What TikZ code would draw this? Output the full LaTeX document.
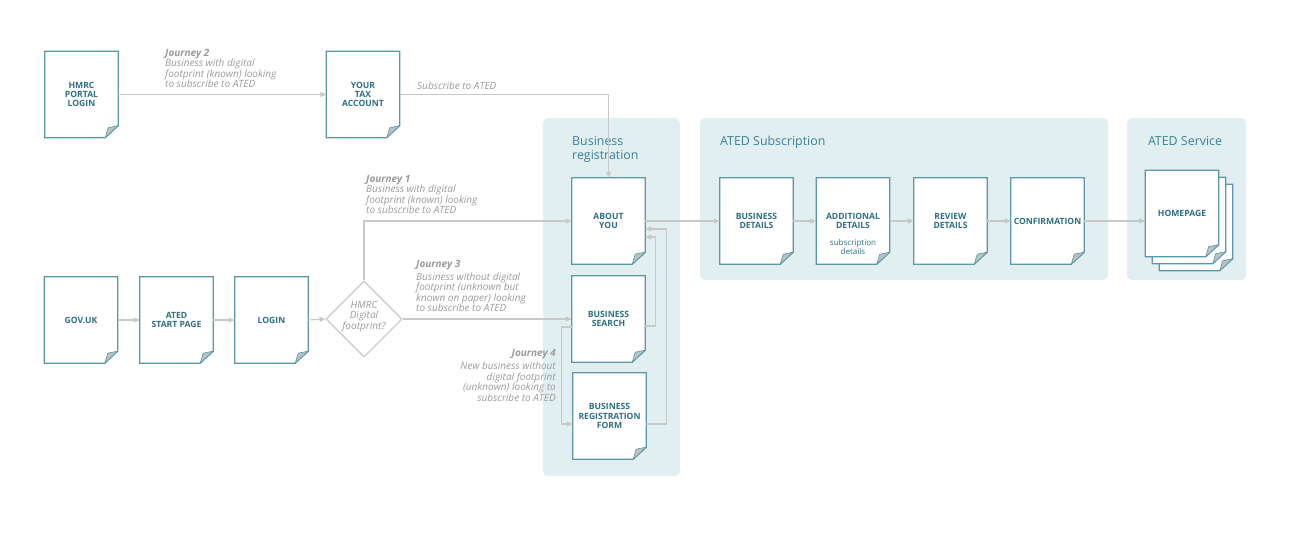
\documentclass[tikz,border=0pt]{standalone}
\usepackage{fontspec}
\setmainfont{Open Sans}
\usetikzlibrary{arrows.meta,shapes.geometric,calc}
\definecolor{tealline}{HTML}{5A98A6}
\definecolor{tealtext}{HTML}{2E6F82}
\definecolor{paneltxt}{HTML}{3A8098}
\definecolor{panelfill}{HTML}{E1EFF1}
\definecolor{conn}{HTML}{C8C8C8}
\definecolor{lbl}{HTML}{9A9A9A}
\definecolor{foldc}{HTML}{B8C2C4}
\pgfdeclarelayer{back}
\pgfdeclarelayer{mid}
\pgfsetlayers{back,mid,main}
\tikzset{
  docbox/.style={rectangle, minimum width=73pt, minimum height=86pt, inner sep=0pt, align=center,
    font=\fontsize{8.6}{9.2}\selectfont\bfseries, text=tealtext},
  docline/.style={draw=tealline, line width=1.3pt, fill=white, line join=miter},
  foldstyle/.style={draw=tealline, line width=0.6pt, fill=foldc, line join=round},
  conline/.style={draw=conn, line width=1.1pt, -{Triangle[length=6pt,width=5pt]}},
  panel/.style={fill=panelfill, draw=none, rounded corners=5pt},
  jlabel/.style={font=\fontsize{10}{10.4}\selectfont\itshape, text=lbl, inner sep=0pt},
  ptitle/.style={font=\fontsize{12.4}{14}\selectfont, text=paneltxt, inner sep=0pt, align=left},
  subtxt/.style={font=\fontsize{8}{9}\selectfont, text=tealtext, inner sep=0pt, align=center},
  diamondbox/.style={diamond, draw=conn, line width=1.1pt, minimum width=76pt, minimum height=76pt, inner sep=0pt, shape aspect=1},
}
\newcommand{\docshape}[1]{%
  \path[docline] (#1.north west) -- (#1.north east) -- ([yshift=12pt]#1.south east)
    -- ([xshift=-13pt]#1.south east) -- (#1.south west) -- cycle;
  \path[foldstyle] ([yshift=12pt]#1.south east) -- ([xshift=-13pt]#1.south east)
    -- ([xshift=-10pt,yshift=10pt]#1.south east) -- cycle;
}
\begin{document}
\begin{tikzpicture}[x=1pt,y=-1pt]
\useasboundingbox (0,0) rectangle (1316,536);

% panels
\begin{pgfonlayer}{back}
\path[panel] (543,118) rectangle (680,476);
\path[panel] (700,118) rectangle (1108,280);
\path[panel] (1127,118) rectangle (1246,280);
\end{pgfonlayer}

\node[ptitle, anchor=west] (brtitle) at (572,149) {Business\\registration};
\node[ptitle, anchor=west] (subtitle) at (720,142) {ATED Subscription};
\node[ptitle, anchor=center] (servtitle) at (1185,141) {ATED Service};

% document nodes
\node[docbox] (hmrc) at (81.5,94.5) {HMRC\\PORTAL\\LOGIN};
\node[docbox] (tax) at (363,94.5) {YOUR\\TAX\\ACCOUNT};
\node[docbox] (gov) at (81,320) {GOV.UK};
\node[docbox] (start) at (176.5,320) {ATED\\START PAGE};
\node[docbox] (login) at (271.5,320) {LOGIN};
\node[docbox] (about) at (608.5,221) {ABOUT\\YOU};
\node[docbox] (search) at (608.5,319) {BUSINESS\\SEARCH};
\node[docbox] (regform) at (609.5,416) {BUSINESS\\REGISTRATION\\FORM};
\node[docbox] (bd) at (756.5,221) {BUSINESS\\DETAILS};
\node[docbox] (add) at (853,221) {ADDITIONAL\\DETAILS};
\node[subtxt] (addsub) at (853,246.5) {subscription\\details};
\node[docbox] (rev) at (950.5,221) {REVIEW\\DETAILS};
\node[docbox] (conf) at (1047.5,221) {CONFIRMATION};
\node[docbox] (home3) at (1196,227.5) {};
\node[docbox] (home2) at (1189,220.5) {};
\node[docbox] (home) at (1182,213.5) {HOMEPAGE};

\begin{pgfonlayer}{mid}
\docshape{hmrc}\docshape{tax}\docshape{gov}\docshape{start}\docshape{login}
\docshape{about}\docshape{search}\docshape{regform}
\docshape{bd}\docshape{add}\docshape{rev}\docshape{conf}
\docshape{home3}\docshape{home2}\docshape{home}
\end{pgfonlayer}

% decision
\node[diamondbox] (dig) at (364,319) {};
\node[jlabel, align=center] (digtxt) at (364,316.5) {HMRC\\Digital\\footprint?};

% labels
\node[jlabel, align=left, anchor=north west] (j2) at (165,49)
  {\textbf{Journey 2}\\Business with digital\\footprint (known) looking\\to subscribe to ATED};
\node[jlabel, anchor=base west] (subs) at (417,89) {Subscribe to ATED};
\node[jlabel, align=left, anchor=north west] (j1) at (366,175)
  {\textbf{Journey 1}\\Business with digital\\footprint (known) looking\\to subscribe to ATED};
\node[jlabel, align=left, anchor=north west] (j3) at (416,260)
  {\textbf{Journey 3}\\[2.6pt]Business without digital\\footprint (unknown but\\known on paper) looking\\to subscribe to ATED};
\node[jlabel, align=right, anchor=north east] (j4) at (556,349.5)
  {\textbf{Journey 4}\\[2.6pt]New business without\\digital footprint\\(unknown) looking to\\subscribe to ATED};

% connectors
\draw[conline] (hmrc) -- (tax);
\draw[conline] (tax.east) -| (about.north);
\draw[conline] (gov) -- (start);
\draw[conline] (start) -- (login);
\draw[conline] (login.east) -- (dig.west);
\draw[conline] (dig.north) |- (about.west);
\draw[conline] (dig.east) -- (search.west);
\draw[conline] ([yshift=-8pt]search.west) -- ++(-10,0) |- ([yshift=-8pt]regform.west);
\draw[conline] ([yshift=-7pt]search.east) -- ++(10,0) |- ([yshift=-16pt]about.east);
\draw[conline] ([yshift=-8pt]regform.east) -- ++(20,0) |- ([yshift=-8pt]about.east);
\draw[conline] (about) -- (bd);
\draw[conline] (bd) -- (add);
\draw[conline] (add) -- (rev);
\draw[conline] (rev) -- (conf);
\draw[conline] (conf.east) -- (conf.east -| home.west);
\end{tikzpicture}
\end{document}
